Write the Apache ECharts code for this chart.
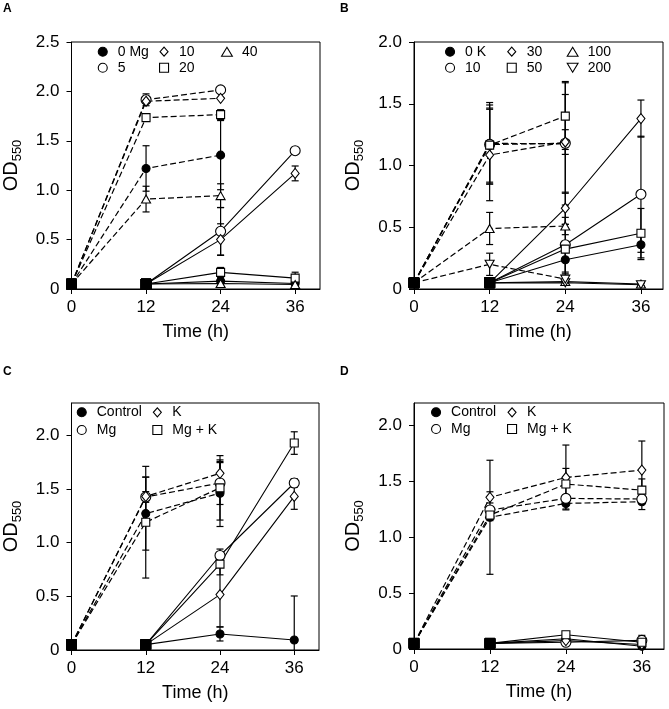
<!DOCTYPE html>
<html><head><meta charset="utf-8">
<script src="https://cdn.jsdelivr.net/npm/echarts@6/dist/echarts.min.js"></script>
<style>html,body{margin:0;padding:0;background:#fff}#c{width:669px;height:709px}</style>
</head><body><div id="c"></div>
<script>
// ---------- DATA ----------
const hours = [0, 12, 24, 36];
const xTicks = [0, 12, 24, 36];

// Panel A (Mg)
const aNames = ['0 Mg', '5', '10', '20', '40'];
const aDashed = [[0.05,1.22,1.355,null],[0.05,1.915,2.015,null],[0.05,1.90,1.93,null],[0.05,1.735,1.765,null],[0.05,0.91,0.945,null]];
const aDashedErr = [[0,0.23,0.35,0],[0,0.06,0,0],[0,0,0,0],[0,0,0.05,0],[0,0.13,0.12,0]];
const aSolid = [[null,0.05,0.08,0.055],[null,0.05,0.584,1.40],[null,0.05,0.50,1.17],[null,0.05,0.168,0.11],[null,0.05,0.055,0.045]];
const aSolidErr = [[0,0,0.03,0.01],[0,0,0.24,0.01],[0,0,0.16,0.075],[0,0,0.05,0.06],[0,0,0.03,0.01]];
const aYTicks = [0, 0.5, 1.0, 1.5, 2.0, 2.5];

// Panel B (K)
const bNames = ['0 K', '10', '30', '50', '100', '200'];
const bDashed = [[0.05,1.18,1.175,null],[0.05,1.17,1.18,null],[0.05,1.085,1.19,null],[0.05,1.165,1.40,null],[0.05,0.49,0.51,null],[0.05,0.20,0.08,null]];
const bDashedErr = [[0,0.33,0.40,0],[0,0.32,0.50,0],[0,0.37,0.10,0],[0,0.30,0.27,0],[0,0.13,0.07,0],[0,0.09,0.03,0]];
const bSolid = [[null,0.05,0.237,0.358],[null,0.05,0.358,0.767],[null,0.05,0.654,1.38],[null,0.05,0.323,0.452],[null,0.05,0.06,0.04],[null,0.05,0.05,0.035]];
const bSolidErr = [[0,0,0.10,0.12],[0,0,0.30,0.47],[0,0,0.13,0.15],[0,0,0.20,0.20],[0,0,0.02,0.01],[0,0,0.02,0.01]];
const bYTicks = [0, 0.5, 1.0, 1.5, 2.0];

// Panel C
const cNames = ['Control', 'Mg', 'K', 'Mg + K'];
const cDashed = [[0.05,1.27,1.46,null],[0.05,1.425,1.555,null],[0.05,1.43,1.645,null],[0.05,1.19,1.51,null]];
const cDashedErr = [[0,0.34,0.31,0],[0,0.05,0.20,0],[0,0.18,0.10,0],[0,0.52,0.30,0]];
const cSolid = [[null,0.05,0.149,0.093],[null,0.05,0.88,1.555],[null,0.05,0.516,1.43],[null,0.05,0.80,1.927]];
const cSolidErr = [[0,0,0.065,0.41],[0,0,0.06,0.04],[0,0,0.30,0.12],[0,0,0.10,0.105]];
const cYTicks = [0, 0.5, 1.0, 1.5, 2.0];

// Panel D
const dNames = ['Control', 'Mg', 'K', 'Mg + K'];
const dDashed = [[0.05,1.178,1.302,1.317],[0.05,1.243,1.347,1.341],[0.05,1.356,1.534,1.60],[0.05,1.198,1.475,1.421]];
const dDashedErr = [[0,0.51,0.05,0.07],[0,0.03,0.03,0.03],[0,0.05,0.29,0.26],[0,0.05,0.14,0.10]];
const dSolid = [[null,0.05,0.092,0.025],[null,0.05,0.06,0.077],[null,0.05,0.075,0.04],[null,0.05,0.128,0.06]];
const dSolidErr = [[0,0,0.02,0.02],[0,0,0.02,0.045],[0,0,0.02,0.02],[0,0,0.02,0.02]];
const dYTicks = [0, 0.5, 1.0, 1.5, 2.0];

// ---------- STYLE ----------
const FONT = 'Liberation Sans, Arial, Helvetica, sans-serif';
const MK = {
  fcircle: {symbol:'circle', size:8, fill:'#000', icon:'circle'},
  ocircle: {symbol:'circle', size:10, fill:'#fff', icon:'circle'},
  diamond: {symbol:'diamond', size:[8,10], fill:'#fff', icon:'path://M4,0L8,4.5L4,9L0,4.5Z'},
  square:  {symbol:'rect', size:8, fill:'#fff', icon:'path://M0,0L8,0L8,8L0,8Z'},
  tri:     {symbol:'triangle', size:[9,8], fill:'#fff', icon:'path://M4.5,0L9,7.5L0,7.5Z'},
  itri:    {symbol:'triangle', size:[9,8], fill:'#fff', rotate:180, icon:'path://M0,0L9,0L4.5,7.5Z'}
};
const aMarks = ['fcircle','ocircle','diamond','square','tri'];
const bMarks = ['fcircle','ocircle','diamond','square','tri','itri'];
const cdMarks = ['fcircle','ocircle','diamond','square'];

const grids = [
  {left:67, top:42, width:253, height:247},
  {left:414, top:42, width:249, height:247},
  {left:67, top:403, width:252, height:247},
  {left:414, top:403, width:250, height:246}
];
const xMax = [40, 39.5, 40, 39.5];
const yMax = [2.5, 2.0, 2.3, 2.2];
const yTicksAll = [aYTicks, bYTicks, cYTicks, dYTicks];

const series = [];
function pts(arr) {
  const out = [];
  let first = true;
  hours.forEach((h, j) => {
    if (arr[j] == null) return;
    if (first) {
      out.push({value:[h, arr[j]], symbol:'rect', symbolSize:10, symbolRotate:0,
        itemStyle:{color:'#000', borderColor:'#000', borderWidth:1}});
      first = false;
    } else out.push([h, arr[j]]);
  });
  return out;
}
function errPts(vals, errs) {
  const out = [];
  hours.forEach((h, j) => {
    if (vals[j] != null && errs[j] > 0) out.push([h, vals[j], errs[j]]);
  });
  return out;
}
function renderErr(params, api) {
  const x = api.value(0), y = api.value(1), e = api.value(2);
  const lo = Math.max(0, y - e), hi = y + e;
  const p1 = api.coord([x, hi]), p2 = api.coord([x, lo]);
  const w = 3.5, st = {stroke:'#000', lineWidth:1.2};
  const ch = [
    {type:'line', shape:{x1:p1[0], y1:p1[1], x2:p2[0], y2:p2[1]}, style:st},
    {type:'line', shape:{x1:p1[0]-w, y1:p1[1], x2:p1[0]+w, y2:p1[1]}, style:st}
  ];
  if (y - e > 0) ch.push({type:'line', shape:{x1:p2[0]-w, y1:p2[1], x2:p2[0]+w, y2:p2[1]}, style:st});
  return {type:'group', children:ch};
}
function buildPanel(idx, key, names, marks, dashed, dashedErr, solid, solidErr) {
  const errData = [];
  names.forEach((n, i) => {
    errData.push(...errPts(dashed[i], dashedErr[i]));
    errData.push(...errPts(solid[i], solidErr[i]));
  });
  series.push({type:'custom', xAxisIndex:idx, yAxisIndex:idx, renderItem:renderErr,
    data:errData, encode:{x:0, y:1}, z:1, silent:true});
  names.forEach((n, i) => {
    const m = MK[marks[i]];
    const base = {type:'line', name:key + '|' + n, xAxisIndex:idx, yAxisIndex:idx,
      symbol:m.symbol, symbolSize:m.size, symbolRotate:m.rotate || 0, showAllSymbol:true,
      itemStyle:{color:m.fill, borderColor:'#000', borderWidth:1.1}, clip:false, animation:false};
    series.push(Object.assign({}, base, {data:pts(solid[i]), lineStyle:{color:'#000', width:1.1, type:'solid'}, z:3}));
    series.push(Object.assign({}, base, {data:pts(dashed[i]), lineStyle:{color:'#000', width:1.2, type:[6,3]}, z:4}));
  });
}
buildPanel(0, 'A', aNames, aMarks, aDashed, aDashedErr, aSolid, aSolidErr);
buildPanel(1, 'B', bNames, bMarks, bDashed, bDashedErr, bSolid, bSolidErr);
buildPanel(2, 'C', cNames, cdMarks, cDashed, cDashedErr, cSolid, cSolidErr);
buildPanel(3, 'D', dNames, cdMarks, dDashed, dDashedErr, dSolid, dSolidErr);

function legendItem(key, name, mark) {
  const m = MK[mark];
  return {name:key + '|' + name, icon:m.icon,
    itemStyle:{color:m.fill, borderColor:'#000', borderWidth:1.1}};
}
function legendCol(key, names, marks, idxs, iconCenterX, rowTop, gap) {
  return {orient:'vertical', left:iconCenterX - 10, top:rowTop, padding:0,
    itemWidth:20, itemHeight:9, itemGap:gap, selectedMode:false, symbolKeepAspect:true,
    textStyle:{fontSize:14, color:'#000', fontFamily:FONT, lineHeight:16},
    formatter:(n) => n.split('|')[1],
    data:idxs.map(i => legendItem(key, names[i], marks[i]))};
}
const legends = [
  legendCol('A', aNames, aMarks, [0,1], 107.7, 43.7, 0),
  legendCol('A', aNames, aMarks, [2,3], 169, 43.7, 0),
  legendCol('A', aNames, aMarks, [4], 231, 43.7, 0),
  legendCol('B', bNames, bMarks, [0,1], 455, 43.7, 0),
  legendCol('B', bNames, bMarks, [2,3], 516.7, 43.7, 0),
  legendCol('B', bNames, bMarks, [4,5], 576.7, 43.7, 0),
  legendCol('C', cNames, cdMarks, [0,1], 86.7, 404.3, 1.7),
  legendCol('C', cNames, cdMarks, [2,3], 162.3, 404.3, 1.7),
  legendCol('D', dNames, cdMarks, [0,1], 441, 404.3, 0.7),
  legendCol('D', dNames, cdMarks, [2,3], 517, 404.3, 0.7)
];

const xAxes = grids.map((g, i) => ({
  type:'value', gridIndex:i, min:0, max:xMax[i],
  name:'Time (h)', nameLocation:'middle', nameGap:34,
  nameTextStyle:{fontSize:18, color:'#000', fontFamily:FONT},
  axisLine:{show:true, lineStyle:{color:'#000', width:1}},
  axisTick:{show:true, inside:false, length:5, lineStyle:{color:'#000'}, customValues:xTicks},
  axisLabel:{color:'#000', fontSize:17, fontFamily:FONT, margin:10, customValues:xTicks},
  splitLine:{show:false}
}));
const yAxes = grids.map((g, i) => ({
  type:'value', gridIndex:i, min:0, max:yMax[i],
  name:'{a|OD}{b|550}', nameLocation:'middle', nameGap:48, nameRotate:90,
  nameTextStyle:{color:'#000', fontFamily:FONT, rich:{
    a:{fontSize:20, color:'#000', fontFamily:FONT},
    b:{fontSize:13, color:'#000', fontFamily:FONT, padding:[12,0,0,0]}}},
  axisLine:{show:true, lineStyle:{color:'#000', width:1}},
  axisTick:{show:true, inside:false, length:5, lineStyle:{color:'#000'}, customValues:yTicksAll[i]},
  axisLabel:{color:'#000', fontSize:17, fontFamily:FONT, margin:12, customValues:yTicksAll[i],
    formatter:(v) => v === 0 ? '0' : v.toFixed(1)},
  splitLine:{show:false}
}));

const chart = echarts.init(document.getElementById('c'), null, {renderer:'canvas'});
chart.setOption({
  animation:false,
  backgroundColor:'#fff',
  title:[
    {text:'A', left:3, top:3, padding:0, textStyle:{fontSize:12, fontWeight:'bold', color:'#000', fontFamily:FONT}},
    {text:'B', left:340, top:3, padding:0, textStyle:{fontSize:12, fontWeight:'bold', color:'#000', fontFamily:FONT}},
    {text:'C', left:3, top:366, padding:0, textStyle:{fontSize:12, fontWeight:'bold', color:'#000', fontFamily:FONT}},
    {text:'D', left:340, top:366, padding:0, textStyle:{fontSize:12, fontWeight:'bold', color:'#000', fontFamily:FONT}}
  ],
  grid:grids.map(g => Object.assign({show:true, borderColor:'#000', borderWidth:1, backgroundColor:'transparent'}, g)),
  xAxis:xAxes,
  yAxis:yAxes,
  legend:legends,
  series:series
});
</script>
</body></html>
